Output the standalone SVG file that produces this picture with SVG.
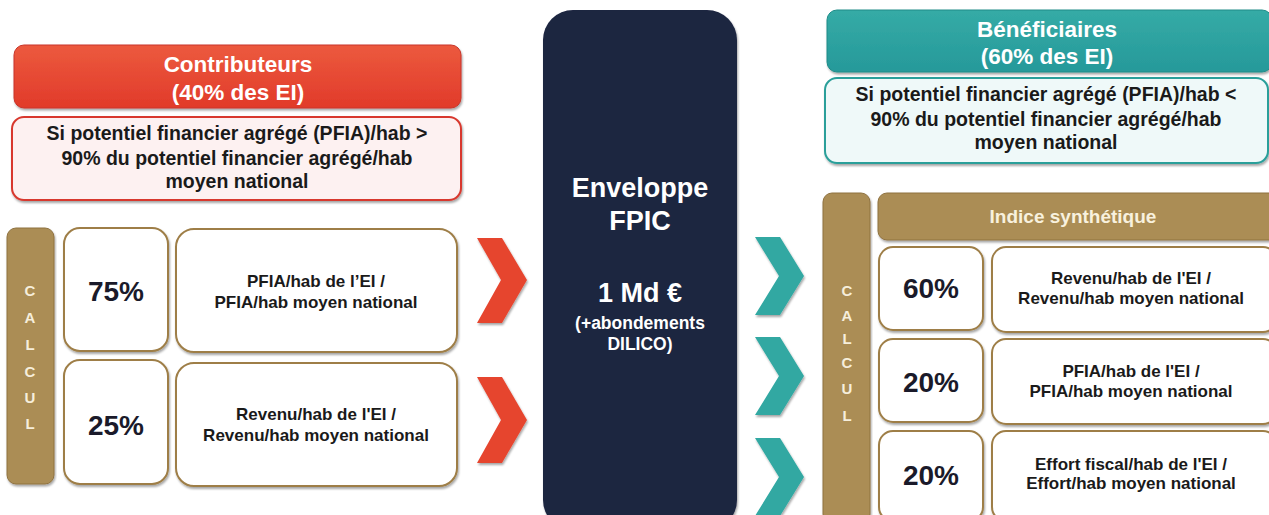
<svg xmlns="http://www.w3.org/2000/svg" width="1269" height="515" viewBox="0 0 1269 515">
<defs>
<filter id="sh" x="-5%" y="-5%" width="110%" height="115%">
<feDropShadow dx="1" dy="2" stdDeviation="1.2" flood-color="#000" flood-opacity="0.35"/>
</filter>
<linearGradient id="gRed" x1="0" y1="0" x2="0" y2="1"><stop offset="0" stop-color="#ec5a3e"/><stop offset="1" stop-color="#e13a2a"/></linearGradient>
<linearGradient id="gTeal" x1="0" y1="0" x2="0" y2="1"><stop offset="0" stop-color="#35aba6"/><stop offset="1" stop-color="#26999a"/></linearGradient>
<style>
text{font-family:"Liberation Sans",Arial,sans-serif;font-weight:bold;text-anchor:middle}
.hdr{fill:#fff;font-size:22.5px}
.cond{fill:#1a1a1a;font-size:19.5px}
.pct{fill:#1a1a2a;font-size:28px}
.frm{fill:#1a1a1a;font-size:17px}
.cal{fill:#f6eedb;font-size:15px}
.box{fill:#fff;stroke:#9e7e47;stroke-width:2}
.gold{fill:#ab8d55;stroke:#8f7240;stroke-width:1}
.ctr{fill:#fff}
</style>
</defs>
<rect width="1269" height="515" fill="#fff"/>

<g id="contributeurs">
<rect x="14" y="45" width="447" height="63" rx="10" fill="url(#gRed)" stroke="#c8352a" stroke-width="1" filter="url(#sh)"/>
<text class="hdr" x="238" y="72">Contributeurs</text>
<text class="hdr" x="238" y="100">(40% des EI)</text>
</g>
<g id="cond-contrib">
<rect x="12" y="117" width="449" height="83" rx="12" fill="#fdf1f1" stroke="#d8392e" stroke-width="2" filter="url(#sh)"/>
<text class="cond" x="237" y="140">Si potentiel financier agrégé (PFIA)/hab &gt;</text>
<text class="cond" x="237" y="165">90% du potentiel financier agrégé/hab</text>
<text class="cond" x="237" y="188">moyen national</text>
</g>
<g id="calcul-left">
<rect class="gold" x="7" y="228" width="47" height="256" rx="9" filter="url(#sh)"/>
<text class="cal" x="30" y="296">C</text>
<text class="cal" x="30" y="323">A</text>
<text class="cal" x="30" y="350">L</text>
<text class="cal" x="30" y="377">C</text>
<text class="cal" x="30" y="403">U</text>
<text class="cal" x="30" y="429">L</text>
</g>
<g id="pct75">
<rect class="box" x="64" y="228" width="104" height="123" rx="16" filter="url(#sh)"/>
<text class="pct" x="116" y="301">75%</text>
</g>
<g id="frm-pfia-left">
<rect class="box" x="176" y="229" width="281" height="123" rx="18" filter="url(#sh)"/>
<text class="frm" x="316" y="287">PFIA/hab de l’EI /</text>
<text class="frm" x="316" y="308">PFIA/hab moyen national</text>
</g>
<g id="pct25">
<rect class="box" x="64" y="360" width="104" height="124" rx="16" filter="url(#sh)"/>
<text class="pct" x="116" y="435">25%</text>
</g>
<g id="frm-rev-left">
<rect class="box" x="176" y="363" width="281" height="123" rx="18" filter="url(#sh)"/>
<text class="frm" x="316" y="420">Revenu/hab de l'EI /</text>
<text class="frm" x="316" y="441">Revenu/hab moyen national</text>
</g>

<g id="enveloppe">
<rect x="543" y="10" width="194" height="520" rx="30" fill="#1c2541" filter="url(#sh)"/>
<text class="ctr" x="640" y="197" font-size="27">Enveloppe</text>
<text class="ctr" x="640" y="230" font-size="27">FPIC</text>
<text class="ctr" x="640" y="302" font-size="27">1 Md €</text>
<text class="ctr" x="640" y="329" font-size="17.5">(+abondements</text>
<text class="ctr" x="640" y="350" font-size="17.5">DILICO)</text>
</g>

<g id="connectors">
<polygon points="477,238 502,238 527,280 502,323 477,323 501,280" fill="#e6452f" filter="url(#sh)"/>
<polygon points="477,377 502,377 527,420 502,463 477,463 501,420" fill="#e6452f" filter="url(#sh)"/>
<polygon points="755,237 780,237 804,276 780,315 755,315 779,276" fill="#30a8a2" filter="url(#sh)"/>
<polygon points="755,337 780,337 804,376 780,415 755,415 779,376" fill="#30a8a2" filter="url(#sh)"/>
<polygon points="755,438 780,438 804,477 780,516 755,516 779,477" fill="#30a8a2" filter="url(#sh)"/>
</g>

<g id="beneficiaires">
<rect x="827" y="10" width="445" height="62" rx="10" fill="url(#gTeal)" stroke="#1f8c88" stroke-width="1" filter="url(#sh)"/>
<text class="hdr" x="1047" y="37">Bénéficiaires</text>
<text class="hdr" x="1047" y="64">(60% des EI)</text>
</g>
<g id="cond-benef">
<rect x="825" y="78" width="443" height="85" rx="12" fill="#eff9f9" stroke="#2a9f9a" stroke-width="2" filter="url(#sh)"/>
<text class="cond" x="1046" y="101">Si potentiel financier agrégé (PFIA)/hab &lt;</text>
<text class="cond" x="1046" y="126">90% du potentiel financier agrégé/hab</text>
<text class="cond" x="1046" y="149">moyen national</text>
</g>
<g id="calcul-right">
<rect class="gold" x="823" y="193" width="47" height="330" rx="9" filter="url(#sh)"/>
<text class="cal" x="847" y="296">C</text>
<text class="cal" x="847" y="321">A</text>
<text class="cal" x="847" y="344">L</text>
<text class="cal" x="847" y="368">C</text>
<text class="cal" x="847" y="394">U</text>
<text class="cal" x="847" y="421">L</text>
</g>
<g id="indice">
<rect class="gold" x="878" y="193" width="400" height="47" rx="9" filter="url(#sh)"/>
<text x="1073" y="223" font-size="19" fill="#f8f1de">Indice synthétique</text>
</g>
<g id="pct60">
<rect class="box" x="879" y="247" width="104" height="83" rx="14" filter="url(#sh)"/>
<text class="pct" x="931" y="298">60%</text>
</g>
<g id="frm-rev-right">
<rect class="box" x="992" y="247" width="285" height="85" rx="14" filter="url(#sh)"/>
<text class="frm" x="1131" y="284">Revenu/hab de l'EI /</text>
<text class="frm" x="1131" y="304">Revenu/hab moyen national</text>
</g>
<g id="pct20a">
<rect class="box" x="879" y="339" width="104" height="83" rx="14" filter="url(#sh)"/>
<text class="pct" x="931" y="392">20%</text>
</g>
<g id="frm-pfia-right">
<rect class="box" x="992" y="339" width="285" height="85" rx="14" filter="url(#sh)"/>
<text class="frm" x="1131" y="377">PFIA/hab de l'EI /</text>
<text class="frm" x="1131" y="397">PFIA/hab moyen national</text>
</g>
<g id="pct20b">
<rect class="box" x="879" y="431" width="104" height="90" rx="14" filter="url(#sh)"/>
<text class="pct" x="931" y="485">20%</text>
</g>
<g id="frm-effort-right">
<rect class="box" x="992" y="431" width="285" height="90" rx="14" filter="url(#sh)"/>
<text class="frm" x="1131" y="470">Effort fiscal/hab de l'EI /</text>
<text class="frm" x="1131" y="489">Effort/hab moyen national</text>
</g>
</svg>
